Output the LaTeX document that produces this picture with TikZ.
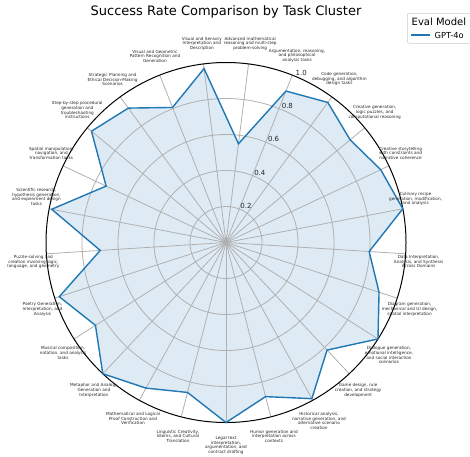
\documentclass[tikz,border=0pt]{standalone}
\usepackage{fontspec}
\setmainfont{DejaVu Sans}
\definecolor{tabblue}{HTML}{1F77B4}
\definecolor{gridgray}{HTML}{B0B0B0}
\definecolor{legedge}{HTML}{CCCCCC}
\tikzset{
  gridline/.style={draw=gridgray, line width=0.8pt},
  outerline/.style={draw=black, line width=1pt},
  series/.style={draw=tabblue, line width=1.4pt, line join=miter},
  seriesfill/.style={fill=tabblue, fill opacity=0.15},
  ticklab/.style={font=\fontsize{4.2}{4.7}\selectfont, align=center, text=black!85, inner sep=0.4pt},
  rlab/.style={font=\fontsize{7}{8}\selectfont, text=black!85, inner sep=0.5pt},
  legframe/.style={draw=legedge, fill=white, fill opacity=0.8, rounded corners=2pt, line width=0.6pt, inner sep=0pt}
}
\begin{document}
\begin{tikzpicture}[x=1pt,y=-1pt]
\useasboundingbox (0,0) rectangle (470,456);
\coordinate (c) at (226,242.5);
% vertices
\foreach \i/\v in {0/0.553,1/0.905,2/0.962,3/0.895,4/0.95,5/1.0,6/0.797,7/0.894,8/1.0,9/0.82,10/0.99,11/0.884,12/1.0,13/0.86,14/0.923,15/1.0,16/0.859,17/0.974,18/0.70,19/0.986,20/0.736,21/0.97,22/0.923,23/0.807,24/0.974}{
  \pgfmathsetmacro\ang{7.2+14.4*\i}
  \coordinate (v\i) at ({226+\v*180*sin(\ang)},{242.5-\v*180*cos(\ang)});
  \coordinate (s\i) at ({226+180*sin(\ang)},{242.5-180*cos(\ang)});
}
% fill
\fill[seriesfill] (v0) -- (v1) -- (v2) -- (v3) -- (v4) -- (v5) -- (v6) -- (v7) -- (v8) -- (v9) -- (v10) -- (v11) -- (v12) -- (v13) -- (v14) -- (v15) -- (v16) -- (v17) -- (v18) -- (v19) -- (v20) -- (v21) -- (v22) -- (v23) -- (v24) -- cycle;
% grid
\foreach \r in {36,72,108,144}{
  \draw[gridline] (c) circle[radius=\r pt];
}
\foreach \i in {0,...,24}{
  \draw[gridline] (c) -- (s\i);
}
\draw[outerline] (c) circle[radius=180pt];
% series line
\draw[series] (v0) -- (v1) -- (v2) -- (v3) -- (v4) -- (v5) -- (v6) -- (v7) -- (v8) -- (v9) -- (v10) -- (v11) -- (v12) -- (v13) -- (v14) -- (v15) -- (v16) -- (v17) -- (v18) -- (v19) -- (v20) -- (v21) -- (v22) -- (v23) -- (v24) -- cycle;
% radial labels
\foreach \k/\r/\t in {1/36/0.2,2/72/0.4,3/108/0.6,4/144/0.8,5/180/1.0}{
  \node[rlab, anchor=south west] (rl\k) at ({226+\r*sin(22.5)},{242.5-\r*cos(22.5)}) {\t};
}
% category labels
\foreach \i/\t in {
 0/{Advanced mathematical\\reasoning and multi-step\\problem-solving},
 1/{Argumentation, reasoning,\\and philosophical\\analysis tasks},
 2/{Code generation,\\debugging, and algorithm\\design tasks},
 3/{Creative generation,\\logic puzzles, and\\computational reasoning},
 4/{Creative storytelling\\with constraints and\\narrative coherence},
 5/{Culinary recipe\\generation, modification,\\and analysis},
 6/{Data Interpretation,\\Analysis, and Synthesis\\Across Domains},
 7/{Diagram generation,\\mechanical and UI design,\\spatial interpretation},
 8/{Dialogue generation,\\emotional intelligence,\\and social interaction\\scenarios},
 9/{Game design, rule\\creation, and strategy\\development},
 10/{Historical analysis,\\narrative generation, and\\alternative scenario\\creation},
 11/{Humor generation and\\interpretation across\\contexts},
 12/{Legal text\\interpretation,\\argumentation, and\\contract drafting},
 13/{Linguistic Creativity,\\Idioms, and Cultural\\Translation},
 14/{Mathematical and Logical\\Proof Construction and\\Verification},
 15/{Metaphor and Analogy\\Generation and\\Interpretation},
 16/{Musical composition,\\notation, and analysis\\tasks},
 17/{Poetry Generation,\\Interpretation, and\\Analysis},
 18/{Puzzle-solving and\\creation involving logic,\\language, and geometry},
 19/{Scientific research,\\hypothesis generation,\\and experiment design\\tasks},
 20/{Spatial manipulation,\\navigation, and\\transformation tasks},
 21/{Step-by-step procedural\\generation and\\troubleshooting\\instructions},
 22/{Strategic Planning and\\Ethical Decision-Making\\Scenarios},
 23/{Visual and Geometric\\Pattern Recognition and\\Generation},
 24/{Visual and Sensory\\Interpretation and\\Description}}{
  \pgfmathsetmacro\ang{7.2+14.4*\i}
  \pgfmathtruncatemacro\labup{cos(\ang)>0 ? 1 : 0}
  \ifnum\labup=1 \def\labanc{south}\else\def\labanc{north}\fi
  \node[ticklab, anchor=\labanc] (lab\i) at ({226+193*sin(\ang)},{242.5-193*cos(\ang)}) {\t};
}
% title
\node[font=\fontsize{13}{15}\selectfont, inner sep=0pt] (title) at (226,12) {Success Rate Comparison by Task Cluster};
% legend
\node[legframe, anchor=north west, minimum width=75pt, minimum height=30pt] (legbox) at (407,13) {};
\node[anchor=west, font=\fontsize{10}{12}\selectfont, inner sep=0pt] (legtitle) at (411.5,21.5) {Eval Model};
\coordinate (la) at (411,35);
\coordinate (lb) at (430,35);
\draw[series] (la) -- (lb);
\node[anchor=west, font=\fontsize{8.3}{10}\selectfont, inner sep=0pt] (legentry) at (434.5,35) {GPT-4o};
\end{tikzpicture}
\end{document}
